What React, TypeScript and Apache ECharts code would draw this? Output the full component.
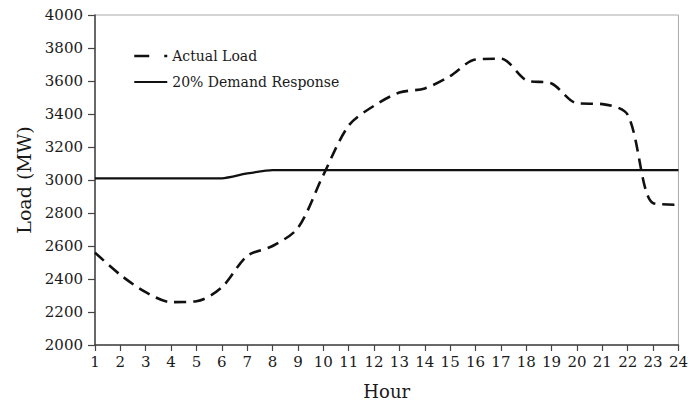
import React, { useEffect, useRef } from "react";
import * as echarts from "echarts";

// Hourly system load (MW)
const hours: number[] = [1, 2, 3, 4, 5, 6, 7, 8, 9, 10, 11, 12, 13, 14, 15, 16, 17, 18, 19, 20, 21, 22, 23, 24];
const actualLoad: number[] = [2560, 2425, 2320, 2260, 2265, 2350, 2540, 2600, 2710, 3030, 3330, 3450, 3530, 3555, 3630, 3730, 3735, 3605, 3585, 3465, 3460, 3395, 2860, 2850];
const demandResponse: number[] = [3010, 3010, 3010, 3010, 3010, 3010, 3040, 3060, 3060, 3060, 3060, 3060, 3060, 3060, 3060, 3060, 3060, 3060, 3060, 3060, 3060, 3060, 3060, 3060];

const FONT = "'DejaVu Serif', 'Liberation Serif', serif";
const INK = "#1a1a1a";
const HIDDEN_SYMBOL = { color: "rgba(0,0,0,0)", borderWidth: 0, opacity: 0 };

export default function App() {
  const ref = useRef<HTMLDivElement>(null);

  useEffect(() => {
    if (!ref.current) return;
    const chart = echarts.init(ref.current, undefined, { renderer: "svg" });
    chart.setOption({
      animation: false,
      backgroundColor: "#ffffff",
      textStyle: { fontFamily: FONT, color: INK },
      grid: {
        left: 95,
        right: 12,
        top: 15,
        bottom: 55,
        show: true,
        borderColor: "#aaaaaa",
        borderWidth: 1,
        backgroundColor: "transparent",
      },
      legend: {
        orient: "vertical",
        left: 128,
        top: 44,
        itemWidth: 33,
        itemHeight: 14,
        itemGap: 12,
        textStyle: { fontFamily: FONT, fontSize: 14, color: INK },
        data: [
          {
            name: "Actual Load",
            itemStyle: HIDDEN_SYMBOL,
            lineStyle: { type: [15, 15, 3, 10], width: 2.5, color: "#111" },
          },
          {
            name: "20% Demand Response",
            itemStyle: HIDDEN_SYMBOL,
            lineStyle: { width: 2.2, color: "#111" },
          },
        ],
      },
      xAxis: {
        type: "value",
        min: 1,
        max: 24,
        interval: 1,
        name: "Hour",
        nameLocation: "middle",
        nameGap: 37,
        nameTextStyle: { fontFamily: FONT, fontSize: 18, color: INK },
        axisLine: { show: true, lineStyle: { color: "#444", width: 1.5 } },
        axisTick: { show: true, inside: false, length: 6, lineStyle: { color: "#444", width: 1.2 } },
        axisLabel: { fontFamily: FONT, fontSize: 15, color: INK, margin: 9 },
        splitLine: { show: false },
      },
      yAxis: {
        type: "value",
        min: 2000,
        max: 4000,
        interval: 200,
        name: "Load (MW)",
        nameLocation: "middle",
        nameGap: 62,
        nameRotate: 90,
        nameTextStyle: { fontFamily: FONT, fontSize: 19, color: INK },
        axisLine: { show: true, lineStyle: { color: "#444", width: 1.5 } },
        axisTick: { show: true, inside: false, length: 7, lineStyle: { color: "#444", width: 1.2 } },
        axisLabel: {
          fontFamily: FONT,
          fontSize: 15,
          color: INK,
          margin: 12,
          formatter: (v: number) => String(v),
        },
        splitLine: { show: false },
      },
      series: [
        {
          name: "Actual Load",
          type: "line",
          data: hours.map((h, i) => [h, actualLoad[i]]),
          showSymbol: false,
          symbol: "none",
          smooth: 0.3,
          lineStyle: { color: "#111", width: 2.6, type: [12, 7] },
          itemStyle: { color: "#111" },
          z: 3,
        },
        {
          name: "20% Demand Response",
          type: "line",
          data: hours.map((h, i) => [h, demandResponse[i]]),
          showSymbol: false,
          symbol: "none",
          smooth: 0.2,
          lineStyle: { color: "#111", width: 2.2, type: "solid" },
          itemStyle: { color: "#111" },
          z: 2,
        },
      ],
    });
    return () => chart.dispose();
  }, []);

  return <div ref={ref} style={{ width: 691, height: 405, position: "absolute", left: 0, top: 0 }} />;
}
